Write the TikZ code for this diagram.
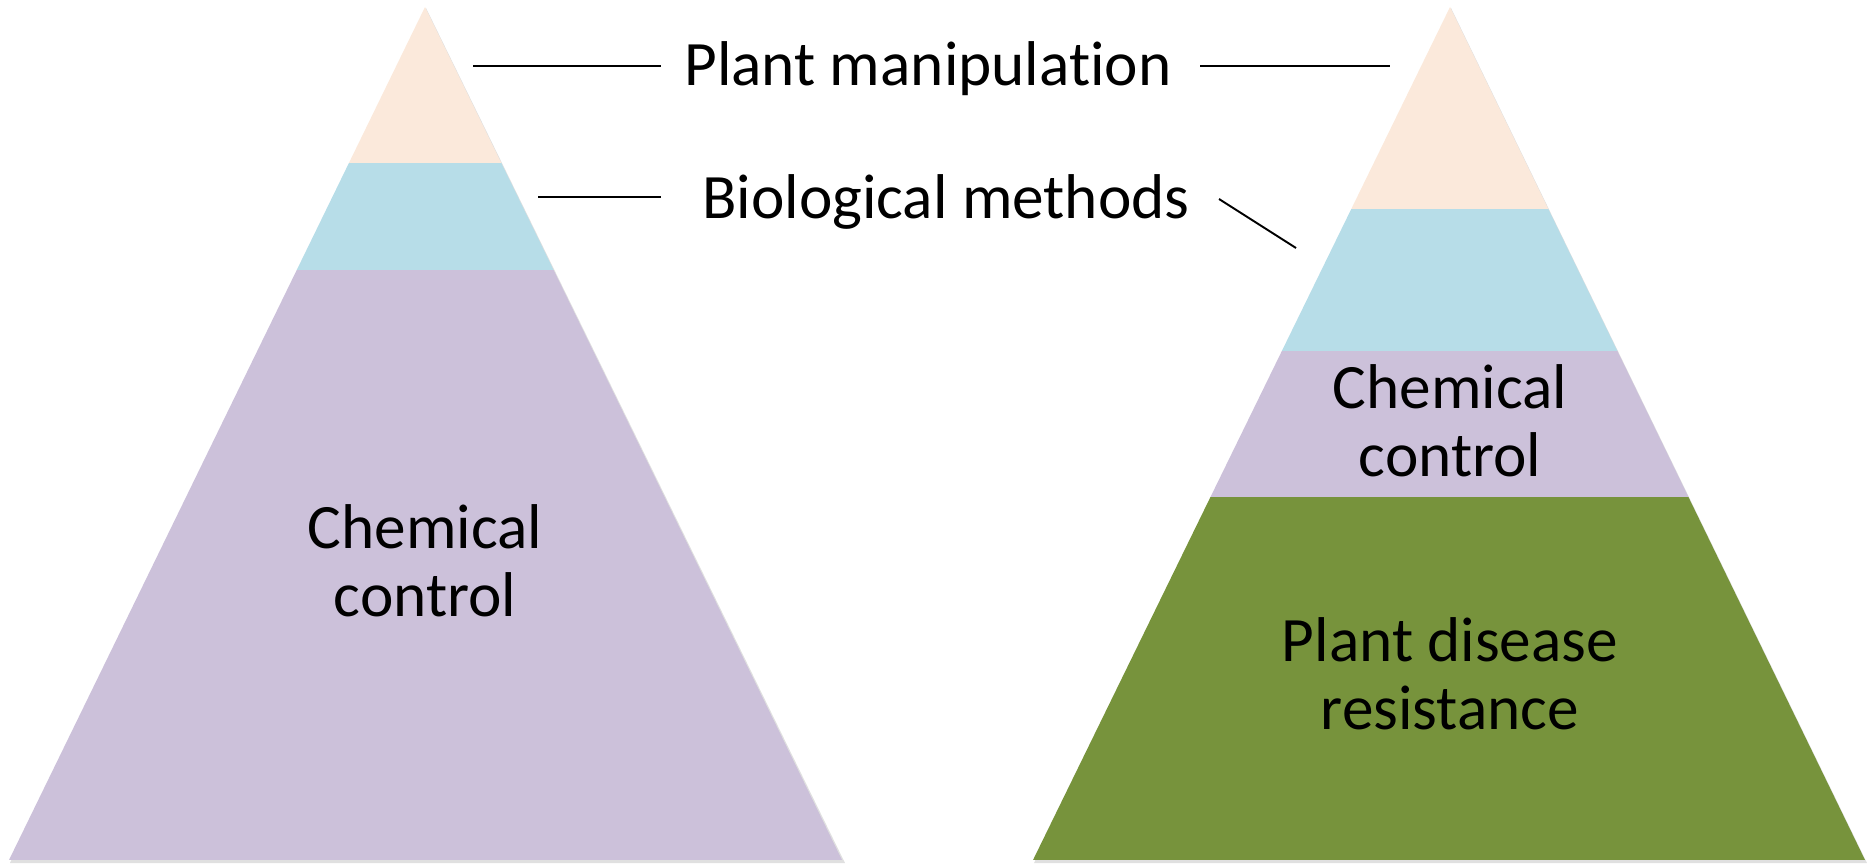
\documentclass[tikz,border=0pt]{standalone}
\usepackage{fontspec}
\setmainfont[Ligatures=NoCommon]{Carlito}
\definecolor{peach}{HTML}{FBE9DB}
\definecolor{lblue}{HTML}{B7DDE8}
\definecolor{lpurple}{HTML}{CCC1DA}
\definecolor{olive}{HTML}{77933C}
\begin{document}
\begin{tikzpicture}[x=0.02cm,y=-0.02cm,
  lbl/.style={font=\fontsize{36}{38.7}\selectfont, inner sep=0pt, align=center, anchor=base},
  leader/.style={line width=1.1pt, draw=black},
  shadowfill/.style={fill=black!12}]
\useasboundingbox (0,0) rectangle (1868,865);
% shadows
\fill[shadowfill] (426,8) -- (845,863) -- (10,863) -- cycle;
\fill[shadowfill] (1451,8) -- (1867,863) -- (1034,863) -- cycle;
% left pyramid
\begin{scope}
  \clip (425,7) -- (842,860) -- (9,860) -- cycle;
  \fill[peach] (0,0) rectangle (900,163);
  \fill[lblue] (0,163) rectangle (900,270);
  \fill[lpurple] (0,270) rectangle (900,860);
\end{scope}
% right pyramid
\begin{scope}
  \clip (1450,7) -- (1865,860) -- (1033,860) -- cycle;
  \fill[peach] (1000,0) rectangle (1868,209);
  \fill[lblue] (1000,209) rectangle (1868,351);
  \fill[lpurple] (1000,351) rectangle (1868,497);
  \fill[olive] (1000,497) rectangle (1868,860);
\end{scope}
% labels (base anchor = last line baseline)
\node[lbl] (pm) at (928,86) {Plant manipulation};
\node[lbl] (bm) at (946,218) {Biological methods};
\node[lbl] (ccL) at (425,616) {Chemical\\control};
\node[lbl] (ccR) at (1450,476) {Chemical\\control};
\node[lbl] (pdr) at (1450,729) {Plant disease\\resistance};
% leader lines
\coordinate (pmA) at (473,66);
\coordinate (pmB) at (661,66);
\coordinate (pmC) at (1200,66);
\coordinate (pmD) at (1390,66);
\coordinate (bmA) at (538,197);
\coordinate (bmB) at (661,197);
\coordinate (bmC) at (1219,199);
\coordinate (bmD) at (1296,248);
\draw[leader] (pmA) -- (pmB);
\draw[leader] (pmC) -- (pmD);
\draw[leader] (bmA) -- (bmB);
\draw[leader] (bmC) -- (bmD);
\end{tikzpicture}
\end{document}
